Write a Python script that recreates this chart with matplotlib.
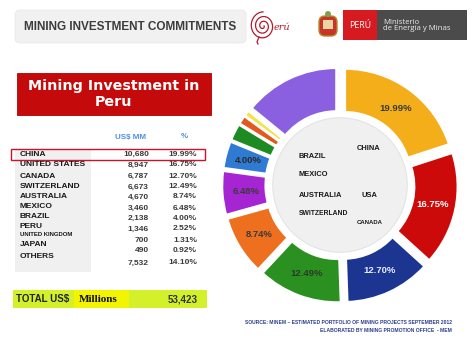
import numpy as np
import matplotlib.pyplot as plt
from matplotlib.patches import Rectangle, FancyBboxPatch, Circle

# data
countries = ["CHINA", "UNITED STATES", "CANADA", "SWITZERLAND", "AUSTRALIA", "MEXICO",
             "BRAZIL", "PERU", "UNITED KINGDOM", "JAPAN", "OTHERS"]
amounts = [10680, 8947, 6787, 6673, 4670, 3460, 2138, 1346, 700, 490, 7532]
amount_labels = ["10,680", "8,947", "6,787", "6,673", "4,670", "3,460", "2,138",
                 "1,346", "700", "490", "7,532"]
pct_labels = ["19.99%", "16.75%", "12.70%", "12.49%", "8.74%", "6.48%", "4.00%",
              "2.52%", "1.31%", "0.92%", "14.10%"]
shown_pct = ["19.99%", "16.75%", "12.70%", "12.49%", "8.74%", "6.48%", "4.00%",
             "", "", "", ""]
total_label = "53,423"

slice_colors = ["#F4AE19", "#CC0A0A", "#1B3590", "#2A9120", "#EE6F1E", "#A525D3",
                "#2F7AD2", "#1E8B22", "#E4571E", "#F3E24A", "#8A5FE0"]
pct_text_colors = ["#3a3a3a", "white", "#e8ecff", "#2a3a2a", "#3a3a3a", "#3a3a3a",
                   "#2a2a2a", "k", "k", "k", "k"]

fig = plt.figure(figsize=(4.74, 3.55), dpi=100)
fig.patch.set_facecolor("white")

# full-page axes in pixel coordinates
bg = fig.add_axes([0, 0, 1, 1])
bg.set_xlim(0, 474)
bg.set_ylim(355, 0)
bg.axis("off")

# header
bg.add_patch(FancyBboxPatch((15, 10), 231, 33, boxstyle="round,pad=0,rounding_size=5",
                            fc="#F1F1F1", ec="#E6E6E6", lw=0.5))
bg.text(24, 27, "MINING INVESTMENT COMMITMENTS", fontsize=8.5, fontweight="bold",
        color="#3c3c3c", va="center", ha="left", family="Liberation Sans")

# Peru logo (swirl + text)
t = np.linspace(0, 5.5 * np.pi, 300)
r = 1.2 + 0.75 * t
bg.plot(263 + r * np.cos(t) * 0.9, 26 + r * np.sin(t) * 1.0, color="#B5172B", lw=0.9)
bg.plot([259, 257, 258], [37, 42, 44], color="#B5172B", lw=0.9)
bg.text(274, 27, "erú", fontsize=7, color="#B5172B", va="center", ha="left",
        style="italic", family="DejaVu Serif")

# coat of arms
bg.add_patch(FancyBboxPatch((319, 16), 18, 20, boxstyle="round,pad=0,rounding_size=6",
                            fc="#C8332A", ec="#B38A2A", lw=1))
bg.add_patch(Rectangle((323, 20), 10, 9, fc="#E8D7A0", ec="none"))
bg.add_patch(Circle((328, 14), 3, fc="#7DA24A", ec="none"))

# ministry boxes
bg.add_patch(Rectangle((343, 10), 34, 30, fc="#D71920", ec="none"))
bg.text(360, 25.5, "PERÚ", fontsize=6.3, color="white", ha="center", va="center",
        family="Open Sans")
bg.add_patch(Rectangle((377, 10), 90, 30, fc="#4B4B4B", ec="none"))
bg.text(383, 25.5, "Ministerio\nde Energía y Minas", fontsize=5.6, color="#EDEDED",
        ha="left", va="center", linespacing=1.0, family="Open Sans")

# title box
bg.add_patch(Rectangle((17, 73), 194, 42, fc="#C40A0A", ec="#B00000", lw=0.6))
bg.text(114, 94, "Mining Investment in\nPeru", fontsize=10.3, fontweight="bold",
        color="white", ha="center", va="center", linespacing=1.2, family="DejaVu Sans")

# table
bg.add_patch(Rectangle((15, 150), 76, 122, fc="#F0F0F0", ec="none"))
bg.text(131, 137, "US$ MM", fontsize=5.8, fontweight="bold", color="#4F8FE0",
        ha="center", va="center", family="Liberation Sans")
bg.text(184, 137, "%", fontsize=5.8, fontweight="bold", color="#4F8FE0",
        ha="center", va="center", family="Liberation Sans")

label_y = [154, 165, 176, 186, 196, 206, 216, 226, 235, 245, 256]
value_y = [154, 165, 176, 187, 197, 208, 218, 229, 240, 251, 263]
for i, name in enumerate(countries):
    fs = 4.3 if name == "UNITED KINGDOM" else 6.0
    bg.text(20, label_y[i], name, fontsize=fs, fontweight="bold", color="#1a1a1a",
            ha="left", va="center", family="Liberation Sans")
    bg.text(149, value_y[i], amount_labels[i], fontsize=6.0, fontweight="bold",
            color="#3a3a3a", ha="right", va="center", family="Liberation Sans")
    bg.text(197, value_y[i], pct_labels[i], fontsize=6.0, fontweight="bold",
            color="#3a3a3a", ha="right", va="center", family="Liberation Sans")

bg.add_patch(Rectangle((11, 148.5), 194, 11, fc="none", ec="#D0102A", lw=1.0))

# total bar
bg.add_patch(Rectangle((13, 290), 194, 18, fc="#D4F02A", ec="none"))
bg.add_patch(Rectangle((74, 290), 55, 18, fc="#F2F400", ec="none"))
bg.text(16, 299, "TOTAL US$", fontsize=7, fontweight="bold", color="#222222",
        ha="left", va="center", family="Liberation Sans")
bg.text(79, 299.5, "Millions", fontsize=8, fontweight="bold", color="#111111",
        ha="left", va="center", family="Liberation Serif")
bg.text(198, 299, total_label, fontsize=7, fontweight="bold", color="#333333",
        ha="right", va="center", family="Liberation Sans")

# source
bg.text(452, 323, "SOURCE: MINEM \u2013 ESTIMATED PORTFOLIO OF MINING PROJECTS SEPTEMBER 2012",
        fontsize=3.6, fontweight="bold", color="#2B3E8F", ha="right", va="center",
        family="Liberation Sans")
bg.text(452, 330, "ELABORATED BY MINING PROMOTION OFFICE  - MEM",
        fontsize=3.6, fontweight="bold", color="#2B3E8F", ha="right", va="center",
        family="Liberation Sans")

# donut
ax = fig.add_axes([222 / 474, 1 - 303 / 355, 236 / 474, 236 / 355])
wedges, _ = ax.pie(amounts, colors=slice_colors, startangle=90, counterclock=False,
                   radius=0.93, explode=[0.07] * len(amounts),
                   wedgeprops=dict(width=0.37, edgecolor="white", linewidth=1.8))
ax.add_patch(Circle((0, 0), 0.57, fc="#F0F0F0", ec="#E4E4E4", lw=0.8))
ax.set_xlim(-1, 1)
ax.set_ylim(-1, 1)
ax.set_aspect("equal")
ax.axis("off")

for w, lab, col in zip(wedges, shown_pct, pct_text_colors):
    if not lab:
        continue
    ang = np.deg2rad((w.theta1 + w.theta2) / 2)
    ax.text(0.8 * np.cos(ang), 0.8 * np.sin(ang), lab, fontsize=6.8, fontweight="bold",
            color=col, ha="center", va="center", family="Liberation Sans")

# names inside the hole
inner = [("CHINA", 0.14, 0.31, 5.4), ("BRAZIL", -0.35, 0.24, 5.4),
         ("MEXICO", -0.35, 0.09, 5.4), ("AUSTRALIA", -0.35, -0.09, 5.4),
         ("USA", 0.18, -0.09, 5.4), ("SWITZERLAND", -0.35, -0.24, 4.9),
         ("CANADA", 0.14, -0.32, 4.3)]
for name, x, y, fs in inner:
    ax.text(x, y, name, fontsize=fs, fontweight="bold", color="#1a1a1a",
            ha="left", va="center", family="Liberation Sans")

fig.savefig("out.png", dpi=100, facecolor="white")
